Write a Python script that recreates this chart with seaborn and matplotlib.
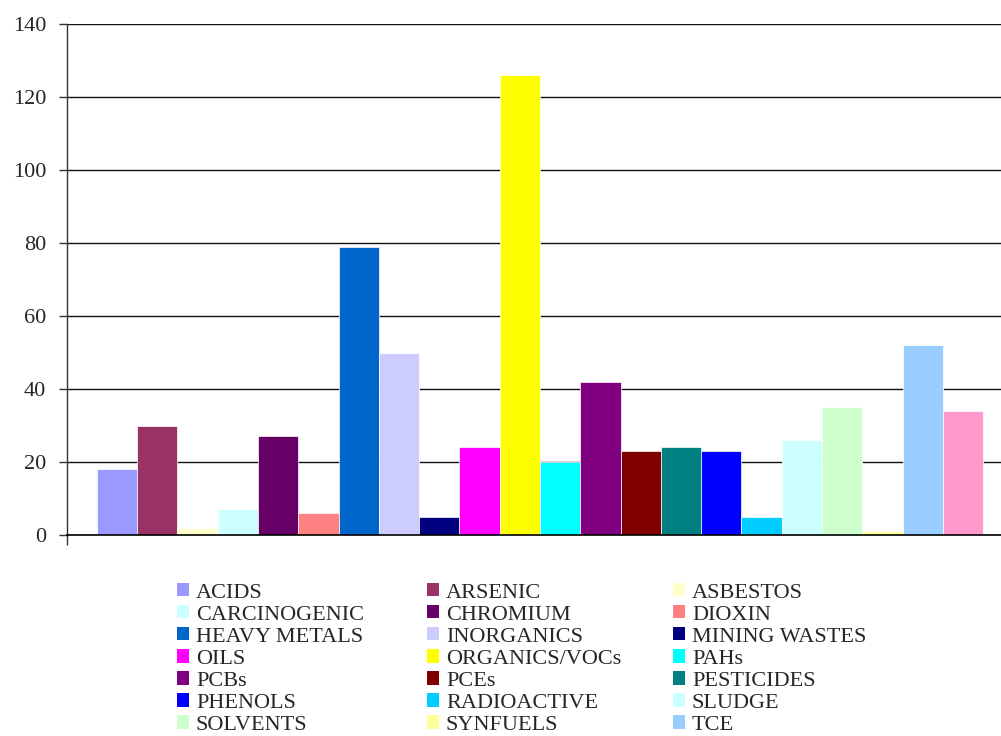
import matplotlib
matplotlib.use("Agg")
import matplotlib.pyplot as plt
from matplotlib.patches import Patch
import seaborn as sns
import pandas as pd

# Number of sites reporting each contaminant type
contaminants = [
    "ACIDS", "ARSENIC", "ASBESTOS", "CARCINOGENIC", "CHROMIUM", "DIOXIN",
    "HEAVY METALS", "INORGANICS", "MINING WASTES", "OILS", "ORGANICS/VOCs",
    "PAHs", "PCBs", "PCEs", "PESTICIDES", "PHENOLS", "RADIOACTIVE", "SLUDGE",
    "SOLVENTS", "SYNFUELS", "TCE", "OTHER",
]
sites = [18, 30, 2, 7, 27, 6, 79, 50, 5, 24, 126, 20, 42, 23, 24, 23, 5, 26,
         35, 1, 52, 34]
colors = [
    "#9999FF", "#993366", "#FFFFCC", "#CCFFFF", "#660066", "#FF8080",
    "#0066CC", "#CCCCFF", "#000080", "#FF00FF", "#FFFF00", "#00FFFF",
    "#800080", "#800000", "#008080", "#0000FF", "#00CCFF", "#CCFFFF",
    "#CCFFCC", "#FFFF99", "#99CCFF", "#FF99CC",
]
y_ticks = [0, 20, 40, 60, 80, 100, 120, 140]
# entries listed in the key (the last series has no key entry)
legend_count = 21

df = pd.DataFrame({"group": [""] * len(contaminants),
                   "contaminant": contaminants, "sites": sites})

sns.set_theme(style="white")
plt.rcParams["font.family"] = ["Liberation Serif", "DejaVu Serif"]

W, H = 1001, 736
fig = plt.figure(figsize=(W / 100, H / 100), dpi=100)
ax = fig.add_axes([67 / W, 1 - 535 / H, (1013 - 67) / W, (535 - 24) / H])

sns.barplot(data=df, x="group", y="sites", hue="contaminant",
            hue_order=contaminants, palette=colors, saturation=1,
            width=0.937, gap=0, dodge=True, legend=False, ax=ax,
            edgecolor="white", linewidth=0.5, err_kws={"linewidth": 0})

ax.set_xlim(-0.5, 0.5)
ax.set_ylim(0, 140)
ax.set_yticks(y_ticks)
ax.set_yticklabels([str(t) for t in y_ticks], fontsize=16)
ax.set_xticks([-0.5])
ax.set_xticklabels([""])
ax.set_xlabel("")
ax.set_ylabel("")
ax.tick_params(axis="y", direction="out", length=6, width=1, color="#333333",
               pad=9, left=True)
ax.tick_params(axis="x", direction="out", length=7, width=1, color="#333333",
               bottom=True)
ax.yaxis.grid(True, color="#111111", linewidth=1.0)
ax.set_axisbelow(True)
for side in ("top", "right"):
    ax.spines[side].set_visible(False)
ax.spines["left"].set_color("#333333")
ax.spines["left"].set_linewidth(1.0)
ax.spines["bottom"].set_color("#000000")
ax.spines["bottom"].set_linewidth(1.2)

# Legend in three row-major columns below the plot
handles = [Patch(facecolor=c, edgecolor="none") for c in colors]
col_x = [177, 427, 673]
for j, x in enumerate(col_x):
    idx = list(range(j, legend_count, 3))
    fig.legend([handles[i] for i in idx], [contaminants[i] for i in idx],
               loc="upper left", bbox_to_anchor=(x / W, 1 - 583 / H),
               bbox_transform=fig.transFigure, frameon=False, fontsize=16,
               borderpad=0, borderaxespad=0, labelspacing=0.112,
               handlelength=0.55, handleheight=0.55, handletextpad=0.3)

fig.savefig("out.png", dpi=100)
